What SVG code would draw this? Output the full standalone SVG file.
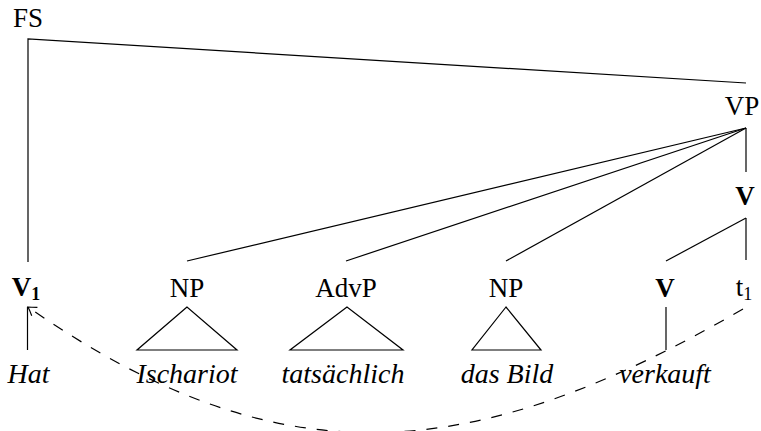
<svg xmlns="http://www.w3.org/2000/svg" width="761" height="431" viewBox="0 0 761 431">
<style>
text{font-family:"Liberation Serif","DejaVu Serif",serif;font-size:27px;fill:#000;text-anchor:middle}
.b{font-weight:bold}
.i{font-style:italic;font-size:28px}
.sub{font-size:18px}
line,polyline,polygon,path{stroke:#000;stroke-width:1.2;fill:none}
.dash{stroke-dasharray:11 11}
</style>
<defs>
<marker id="to" markerUnits="userSpaceOnUse" markerWidth="16" markerHeight="16" refX="0" refY="0" viewBox="-10 -8 12 16" orient="auto">
<path d="M -8 -5 Q -3 -1.5 0 0 Q -3 1.5 -8 5" style="stroke-dasharray:none"/>
</marker>
</defs>
<g id="connectors">
<polyline points="28,262 28,39 746,83"/>
<line x1="746" y1="128" x2="746" y2="172"/>
<line x1="746" y1="128" x2="187" y2="261"/>
<line x1="746" y1="128" x2="346" y2="261"/>
<line x1="746" y1="128" x2="506" y2="261"/>
<line x1="746" y1="218" x2="666" y2="261"/>
<line x1="746" y1="218" x2="746" y2="260"/>
<line x1="27.5" y1="307" x2="27.5" y2="350"/>
<line x1="666" y1="307" x2="666" y2="350"/>
<path class="dash" d="M 743 309 C 475 464 282 484 28 307" marker-end="url(#to)"/>
</g>
<g id="FS"><text x="28" y="27">FS</text></g>
<g id="VP"><text x="742" y="115">VP</text></g>
<g id="Vbar"><text class="b" x="745" y="205">V</text></g>
<g id="V1"><text class="b" x="26" y="296">V<tspan class="sub" dy="4">1</tspan></text></g>
<g id="NP1"><text x="187" y="297">NP</text><polygon points="187,307 137,350 237,350"/></g>
<g id="AdvP"><text x="346" y="297">AdvP</text><polygon points="347,307 290,350 403,350"/></g>
<g id="NP2"><text x="506" y="297">NP</text><polygon points="506,307 472,350 541,350"/></g>
<g id="V"><text class="b" x="665" y="297">V</text></g>
<g id="t1"><text x="744" y="296">t<tspan class="sub" dy="4">1</tspan></text></g>
<g id="Hat"><text class="i" x="28.5" y="383">Hat</text></g>
<g id="Ischariot"><text class="i" x="187" y="383">Ischariot</text></g>
<g id="tatsaechlich"><text class="i" x="343" y="383">tatsächlich</text></g>
<g id="dasBild"><text class="i" x="507" y="383">das Bild</text></g>
<g id="verkauft"><text class="i" x="665" y="383">verkauft</text></g>
</svg>
